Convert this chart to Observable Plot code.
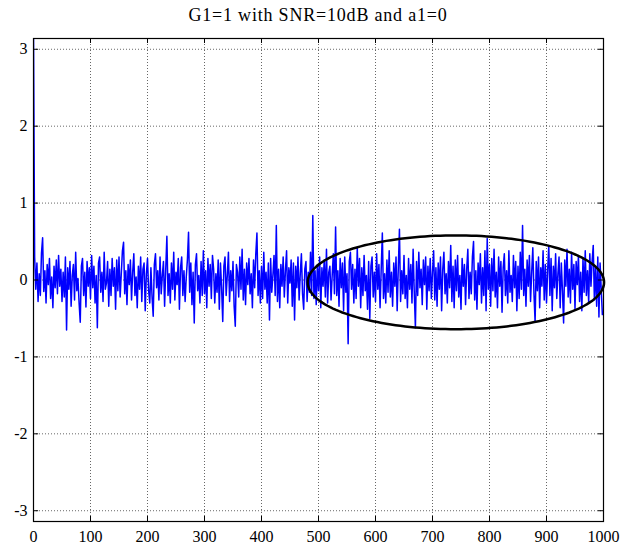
<!DOCTYPE html>
<html>
<head>
<meta charset="utf-8">
<script src="https://cdn.jsdelivr.net/npm/d3@7"></script>
<script src="https://cdn.jsdelivr.net/npm/@observablehq/plot@0.6"></script>
<style>
  body { margin: 0; background: #fff; }
  #title { height: 30px; line-height: 31px; padding-left: 33px; width: 570px; text-align: center;
           font-family: "Liberation Serif", "Times New Roman", serif; font-size: 18px; letter-spacing: 0.8px; color: #000; }
  #chart svg, #chart svg text { font-family: "Liberation Serif", "Times New Roman", serif !important; }
</style>
</head>
<body>
<div id="title">G1=1 with SNR=10dB and a1=0</div>
<div id="chart"></div>
<script>
// Visible vertices of the signal, in hundredths, one every 2 samples (x = 0, 2, 4, ... 998), read/
const signalRows = [
"320 30 -12 22 -28 | 8 -20 35 55 -15 | 12 -30 20 -6 28 | -24 4 -36 18 -10 | 26 -18 32 -8 14 | -28 10 -22 30 -65 | 16 -12 24 -34 6 | 20 -26 36 -14 2 | -30 -55 18 28 -20 | 10 -35 24 -8 16",
"-24 32 -10 18 -30 | 6 -62 22 30 -16 | 10 -28 36 -12 -4 | 24 -34 14 -20 28 | -8 16 -38 26 -14 | 30 -22 8 38 49 | -18 12 -32 20 -6 | 26 -26 10 34 -20 | 4 -36 18 -12 30 | -28 14 22 -40 8",
"28 -14 -30 16 -22 | -47 20 34 -10 12 | -26 30 -18 6 24 | -34 14 57 -20 8 | -30 22 -12 36 -26 | 10 -6 28 -38 16 | 30 -20 12 -28 4 | 26 62 -16 22 -32 | 10 -56 20 34 -14 | 6 -30 24 -20 38",
"-18 12 -36 28 -8 | 20 -24 32 14 -30 | 8 -16 26 -38 22 | -10 -54 18 30 -20 | 6 36 -28 12 -14 | 24 -34 -60 20 10 | -22 30 -12 40 -26 | 14 -32 22 -6 28 | -18 8 -36 26 -10 | 34 61 -20 12 -30",
"18 -24 36 -12 10 | -30 22 -52 28 -16 | 6 32 -20 71 -28 | 14 -36 20 -8 30 | -22 12 38 -30 16 | -4 26 -34 22 -52 | 18 -10 30 -26 8 | 34 -18 -38 14 24 | -28 10 -16 36 -20 | 84 -24 12 -32 20",
"-14 30 -36 16 -8 | 26 -22 40 -30 10 | 18 -26 6 34 -18 | 69 -20 12 -34 28 | -10 22 -40 30 -16 | 8 -83 24 36 -12 | 20 -30 14 -24 42 | -8 28 -36 16 -20 | 32 -14 6 -38 24 | -50 18 30 -22 10",
"-28 34 -12 20 -36 | 14 61 -24 8 -30 | 26 -16 38 -22 10 | -34 22 -8 30 -40 | 16 66 -28 12 -18 | 32 -24 6 -36 28 | -12 20 -30 40 -16 | -62 24 -20 36 -10 | 14 -32 26 -6 30 | -38 18 -14 28 -24",
"10 38 -26 16 -34 | 22 -12 30 -40 14 | 36 -18 8 -30 24 | -10 45 -28 18 -36 | 26 -14 32 -22 6 | -38 28 -8 20 -32 | 14 40 -24 10 -18 | 30 50 -26 12 -38 | 22 -6 34 -30 16 | -20 38 -40 54 -12",
"20 -34 28 -14 40 | -22 10 -36 30 -8 | 24 -42 16 34 -20 | 12 -30 38 -16 6 | -28 32 -10 24 -40 | 18 -24 36 -12 71 | -20 14 -34 26 -8 | 32 -28 10 42 -18 | -55 24 -14 30 -36 | 16 -8 38 -26 20",
"-30 12 45 -20 28 | -40 18 -10 34 -24 | 8 30 -36 22 -14 | -56 26 -8 40 -22 | 14 -30 36 -12 20 | -38 24 -6 32 -28 | 10 -40 28 -16 38 | -20 12 -30 34 -8 | 24 45 -26 16 -34 | 30 -48 22 -12 -45"
];
const sampleStep = 2;
const xTicks = [0, 100, 200, 300, 400, 500, 600, 700, 800, 900, 1000];
const yTicks = [-3, -2, -1, 0, 1, 2, 3];
const xDomain = [0, 1000];
const yDomain = [-3.14, 3.14];
// annotation ellipse: center and radii in data units
const ellipseCenter = [741, -0.03];
const ellipseRadii = [260, 0.61];

const values = signalRows.join(" ").trim().split(/\s+/).filter(t => t !== "|").map(Number);
const signal = values.map((v, k) => ({x: k * sampleStep, y: v / 100}));

const ellipse = d3.range(0, 361, 2).map(a => ({
  x: ellipseCenter[0] + ellipseRadii[0] * Math.cos(a * Math.PI / 180),
  y: ellipseCenter[1] + ellipseRadii[1] * Math.sin(a * Math.PI / 180)
}));

const tx = 9;     // tick length in x units (~5px)
const ty = 0.065; // tick length in y units (~5px)
const serif = "'Liberation Serif', 'Times New Roman', serif";

const chart = Plot.plot({
  width: 620,
  height: 521,
  marginTop: 8,
  marginLeft: 33,
  marginRight: 17,
  marginBottom: 30,
  style: {fontFamily: serif, fontSize: "16px", color: "#000", background: "#fff"},
  x: {domain: xDomain},
  y: {domain: yDomain},
  marks: [
    Plot.ruleX(xTicks.slice(1, -1), {x: d => d, stroke: "#000", strokeWidth: 0.8, strokeDasharray: "1,2", strokeOpacity: 0.75}),
    Plot.ruleY(yTicks, {y: d => d, stroke: "#000", strokeWidth: 0.8, strokeDasharray: "1,2", strokeOpacity: 0.75}),
    Plot.line(signal, {x: "x", y: "y", stroke: "#0000ff", strokeWidth: 1.5, clip: true}),
    Plot.line(ellipse, {x: "x", y: "y", stroke: "#000", strokeWidth: 2.5}),
    Plot.ruleX(xTicks, {x: d => d, y1: yDomain[0], y2: yDomain[0] + ty, stroke: "#000"}),
    Plot.ruleX(xTicks, {x: d => d, y1: yDomain[1], y2: yDomain[1] - ty, stroke: "#000"}),
    Plot.ruleY(yTicks, {y: d => d, x1: xDomain[0], x2: xDomain[0] + tx, stroke: "#000"}),
    Plot.ruleY(yTicks, {y: d => d, x1: xDomain[1], x2: xDomain[1] - tx, stroke: "#000"}),
    Plot.frame({stroke: "#000", strokeWidth: 1.2}),
    Plot.axisX(xTicks, {tickSize: 0, tickPadding: 9, tickFormat: d => String(d), label: null, fontSize: 16, fontFamily: serif}),
    Plot.axisY(yTicks, {tickSize: 0, tickPadding: 6, tickFormat: d => String(d), label: null, fontSize: 16, fontFamily: serif})
  ]
});
document.getElementById("chart").appendChild(chart);
</script>
</body>
</html>
